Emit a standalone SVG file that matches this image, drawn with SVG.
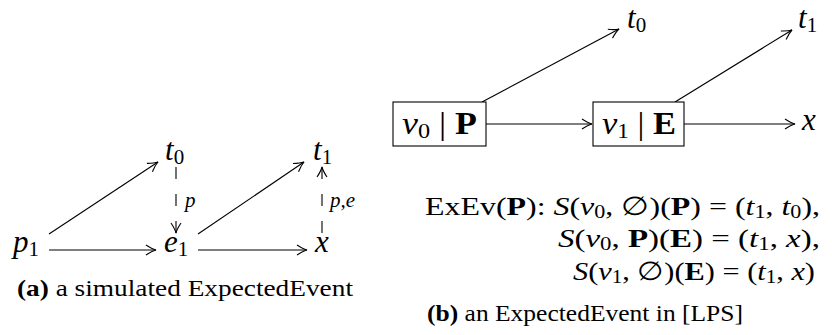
<svg xmlns="http://www.w3.org/2000/svg" width="832" height="335" viewBox="0 0 832 335">
<style>
text{font-family:"Liberation Serif","DejaVu Serif",serif;fill:#000}
.m{font-size:31px}
.f{font-size:26px}
.i{font-style:italic}
.b{font-weight:bold}
.s{font-size:21px}
.fs{font-size:18px}
.cap{font-size:24px}
.lbl{font-size:21px;font-style:italic}
.e{stroke:#000;stroke-width:1.1;fill:none}
.d{stroke-dasharray:12 15}
.box{fill:#fff;stroke:#000;stroke-width:1.1}
</style>
<defs>
<marker id="ah" viewBox="-12 -7 14 14" markerWidth="14" markerHeight="14" refX="0" refY="0" orient="auto" markerUnits="userSpaceOnUse">
<path d="M-10,-5 Q-4,-1 0,0 Q-4,1 -10,5" fill="none" stroke="#000" stroke-width="1.1"/>
</marker>
</defs>
<rect width="832" height="335" fill="#fff"/>
<g id="connectors">
<line class="e" x1="49" y1="234" x2="158" y2="162" marker-end="url(#ah)"/>
<line class="e" x1="49" y1="250" x2="156" y2="250" marker-end="url(#ah)"/>
<line class="e d" x1="176" y1="167" x2="176" y2="233" marker-end="url(#ah)"/>
<line class="e" x1="198" y1="234" x2="304" y2="162" marker-end="url(#ah)"/>
<line class="e" x1="198" y1="250" x2="307" y2="250" marker-end="url(#ah)"/>
<line class="e d" x1="322" y1="233" x2="322" y2="167" marker-end="url(#ah)"/>
<line class="e" x1="486" y1="124" x2="592" y2="124" marker-end="url(#ah)"/>
<line class="e" x1="482" y1="102" x2="619" y2="29" marker-end="url(#ah)"/>
<line class="e" x1="675" y1="102" x2="792" y2="30" marker-end="url(#ah)"/>
<line class="e" x1="684" y1="124" x2="795" y2="124" marker-end="url(#ah)"/>
<text class="lbl" x="185" y="207">p</text>
<text class="lbl" x="330" y="207">p,e</text>
</g>
<g id="a-t0"><text class="m" x="165" y="160"><tspan class="i">t</tspan><tspan class="s" dy="4">0</tspan></text></g>
<g id="a-t1"><text class="m" x="313" y="160"><tspan class="i">t</tspan><tspan class="s" dy="4">1</tspan></text></g>
<g id="a-p1"><text class="m" x="13" y="252"><tspan class="i">p</tspan><tspan class="s" dy="4">1</tspan></text></g>
<g id="a-e1"><text class="m" x="164" y="252"><tspan class="i">e</tspan><tspan class="s" dy="4">1</tspan></text></g>
<g id="a-x"><text class="m i" x="315" y="252">x</text></g>
<g id="cap-a"><text class="cap" x="17" y="296" textLength="336" lengthAdjust="spacingAndGlyphs"><tspan class="b">(a)</tspan> a simulated ExpectedEvent</text></g>
<g id="b-v0">
<rect class="box" x="393" y="102" width="93" height="44"/>
<text class="m" x="402" y="134" textLength="75" lengthAdjust="spacingAndGlyphs"><tspan class="i">v</tspan><tspan class="s" dy="4">0</tspan><tspan dy="-4"> | </tspan><tspan class="b">P</tspan></text>
</g>
<g id="b-v1">
<rect class="box" x="593" y="102" width="91" height="44"/>
<text class="m" x="602" y="134" textLength="74" lengthAdjust="spacingAndGlyphs"><tspan class="i">v</tspan><tspan class="s" dy="4">1</tspan><tspan dy="-4"> | </tspan><tspan class="b">E</tspan></text>
</g>
<g id="b-t0"><text class="m" x="627" y="28"><tspan class="i">t</tspan><tspan class="s" dy="4">0</tspan></text></g>
<g id="b-t1"><text class="m" x="798" y="28"><tspan class="i">t</tspan><tspan class="s" dy="4">1</tspan></text></g>
<g id="b-x"><text class="m i" x="802" y="130">x</text></g>
<g id="formula">
<text class="f" x="425" y="215" textLength="395" lengthAdjust="spacingAndGlyphs">ExEv(<tspan class="b">P</tspan>): <tspan class="i">S</tspan>(<tspan class="i">v</tspan><tspan class="fs" dy="3">0</tspan><tspan dy="-3">, ∅)(</tspan><tspan class="b">P</tspan>) = (<tspan class="i">t</tspan><tspan class="fs" dy="3">1</tspan><tspan dy="-3">, </tspan><tspan class="i">t</tspan><tspan class="fs" dy="3">0</tspan><tspan dy="-3">),</tspan></text>
<text class="f" x="558" y="247" textLength="262" lengthAdjust="spacingAndGlyphs"><tspan class="i">S</tspan>(<tspan class="i">v</tspan><tspan class="fs" dy="3">0</tspan><tspan dy="-3">, </tspan><tspan class="b">P</tspan>)(<tspan class="b">E</tspan>) = (<tspan class="i">t</tspan><tspan class="fs" dy="3">1</tspan><tspan dy="-3">, </tspan><tspan class="i">x</tspan>),</text>
<text class="f" x="573" y="280" textLength="242" lengthAdjust="spacingAndGlyphs"><tspan class="i">S</tspan>(<tspan class="i">v</tspan><tspan class="fs" dy="3">1</tspan><tspan dy="-3">, ∅)(</tspan><tspan class="b">E</tspan>) = (<tspan class="i">t</tspan><tspan class="fs" dy="3">1</tspan><tspan dy="-3">, </tspan><tspan class="i">x</tspan>)</text>
</g>
<g id="cap-b"><text class="cap" x="427" y="321" textLength="316" lengthAdjust="spacingAndGlyphs"><tspan class="b">(b)</tspan> an ExpectedEvent in [LPS]</text></g>
</svg>
